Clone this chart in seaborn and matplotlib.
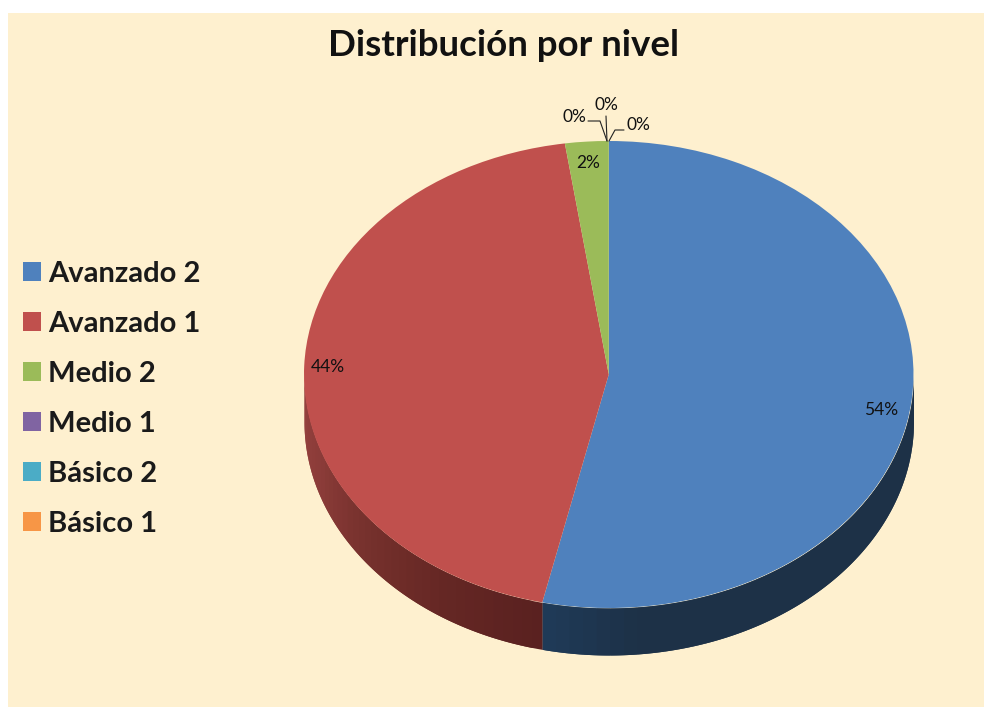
import numpy as np
import matplotlib
matplotlib.use('Agg')
import matplotlib.pyplot as plt
import seaborn as sns

# Datos de la grafica
niveles = ['Avanzado 2', 'Avanzado 1', 'Medio 2', 'Medio 1', 'Básico 2', 'Básico 1']
valores = [53.5, 44.2, 2.3, 0.0, 0.0, 0.0]
colores = ['#4F81BD', '#C0504D', '#9BBB59', '#8064A2', '#4BACC6', '#F79646']
lados_rojo = ['#5A2120', '#652724', '#75302C', '#8A3B38', '#96423F']
lado_azul = ['#1D3147', '#1D3147', '#1D3147', '#1D3147', '#1D3147', '#1D3147', '#1F3A57']

sns.set_theme(style='white')
plt.rcParams['font.family'] = ['Lato', 'DejaVu Sans']

W, H = 984, 707
FONDO = '#FEF0CF'
fig = plt.figure(figsize=(W / 100, H / 100), dpi=100, facecolor='white')
fig.add_artist(plt.Rectangle((8 / W, 0), 1 - 8 / W, 1 - 13 / H, transform=fig.transFigure,
                             facecolor=FONDO, edgecolor='none', zorder=-1))

# Eje del pastel: caja del elipse superior mas la profundidad
prof = 47 / 233.5
ax = fig.add_axes([304 / W, 1 - 655 / H, 609.5 / W, 514 / H])

# Lado 3D, tiras por angulo (solo la mitad visible)
fin = 90 - 360 * np.cumsum(valores) / 100
ini = 90 - 360 * np.cumsum([0] + valores[:-1]) / 100
pal_rojo = sns.blend_palette(lados_rojo, 40)
pal_azul = sns.blend_palette(lado_azul, 40)
for a0, a1, pal in [(min(ini[0], 0), fin[0], pal_azul), (ini[1], max(fin[1], -180), pal_rojo)]:
    bordes = np.linspace(a0, a1, len(pal) + 1)
    for i in range(len(pal)):
        # cada tira pisa un poco la siguiente para que no se vean juntas
        fin_tira = bordes[min(i + 2, len(pal))]
        t = np.radians(np.linspace(bordes[i], fin_tira, 16))
        x = np.cos(t)
        y = np.sin(t)
        orden = np.argsort(x)
        ax.fill_between(x[orden], y[orden], y[orden] - prof, color=pal[i], lw=0, zorder=1 + i * 0.001)

wedges, _ = ax.pie(valores, colors=colores, startangle=90, counterclock=False, radius=1,
                   wedgeprops={'linewidth': 0, 'zorder': 2})
ax.set_aspect('auto')
ax.set_xlim(-1, 1)
ax.set_ylim(-1 - prof, 1)

# Etiquetas de porcentaje
etiquetas = [f'{v:.0f}%' for v in valores]
pos = [(881, 410), (328, 367), (588, 163)]
for txt, (px, py) in zip(etiquetas[:3], pos):
    fig.text(px / W, 1 - py / H, txt, ha='center', va='center', fontsize=12.5, color='#111111')

# Los tres 0% con lineas guia
guias = [((574, 117), [(588, 121), (600, 121), (607, 141)]),
         ((606, 105), [(606, 116), (607, 141)]),
         ((638, 125), [(624, 130), (615, 130), (609, 141)])]
for txt, (p, linea) in zip(etiquetas[3:], guias):
    fig.text(p[0] / W, 1 - p[1] / H, txt, ha='center', va='center', fontsize=12.5, color='#111111')
    xs = [q[0] / W for q in linea]
    ys = [1 - q[1] / H for q in linea]
    fig.add_artist(plt.Line2D(xs, ys, color='#222222', lw=0.8, transform=fig.transFigure))

fig.text(503 / W, 1 - 46 / H, 'Distribución por nivel', ha='center', va='center',
         fontsize=26.4, fontweight='bold', color='#111111')

fig.legend(wedges, niveles, loc='center left', bbox_to_anchor=(23 / W, 1 - 399 / H), frameon=False,
           prop={'size': 21, 'weight': 'bold'}, labelcolor='#1a1a1a', handlelength=0.62, handleheight=0.62,
           handletextpad=0.24, labelspacing=0.82, borderpad=0, borderaxespad=0)

fig.savefig('out.png', dpi=100)
